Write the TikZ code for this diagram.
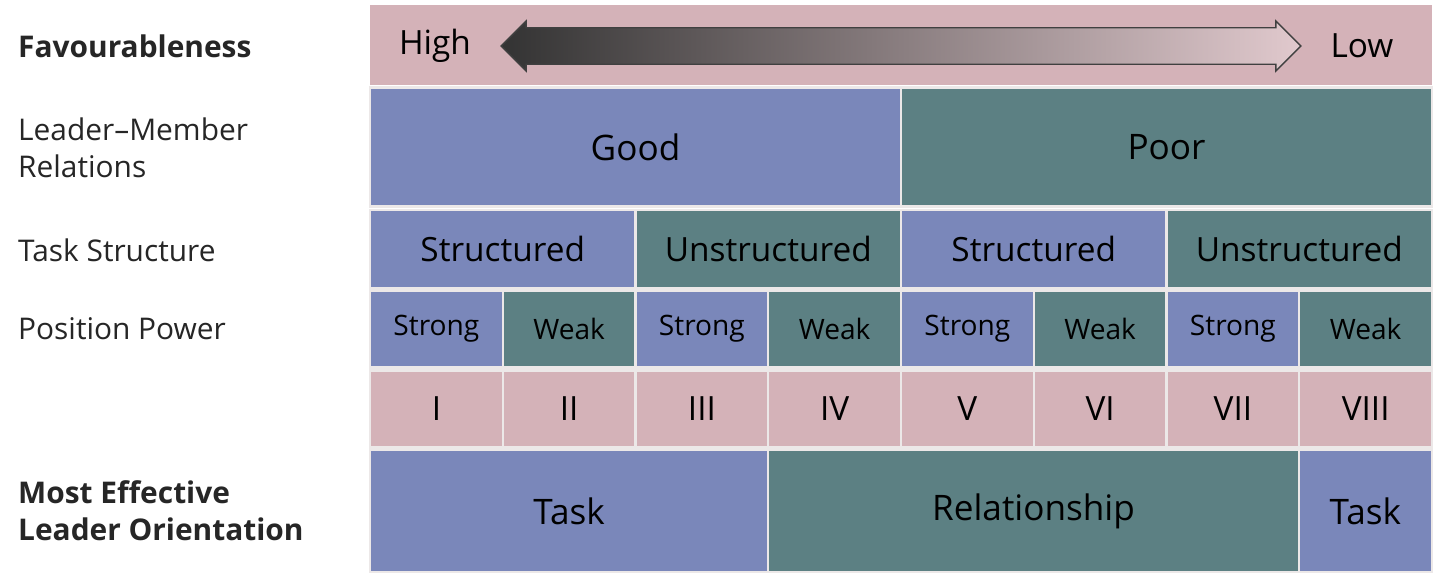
\documentclass[tikz,border=0pt]{standalone}
\usepackage{fontspec}
\setmainfont{Open Sans}
\usetikzlibrary{shapes.arrows}
\definecolor{pinkc}{RGB}{212,178,184}
\definecolor{bluec}{RGB}{122,135,186}
\definecolor{tealc}{RGB}{92,128,131}
\definecolor{gridc}{RGB}{236,232,232}
\begin{document}
\begin{tikzpicture}[
            x = 0.02cm, y = -0.02cm,
            cell/.style = {draw = gridc, line width = 1.2pt, inner sep = 0pt},
            rowlabel/.style = {anchor = west, align = left, font = \fontsize{17}{21}\selectfont, text = black!85},
            boldlabel/.style = {rowlabel, font = \fontsize{17}{21}\selectfont\bfseries}
        ]

        \useasboundingbox (0,0) rectangle (1440,581);
        \fill[white] (0,0) rectangle (1440,581);

        % favourableness row
        \fill[pinkc] (370,5) rectangle (1432,85);
        \node[cell, draw = none] (top) at (901,45) {};
        \node[font = \fontsize{19}{23}\selectfont] (high) at (435,46) {High};
        \node[font = \fontsize{19}{23}\selectfont] (low) at (1362,46) {Low};
        \node[double arrow, draw = black!75, thick, left color = black!80, right color = pinkc!70,
              minimum height = 16cm, minimum width = 1cm, double arrow head extend = 0.05cm,
              inner sep = 0.12cm] (arr) at (901,46) {};

        % leader-member relations
        \foreach \t/\c/\i in {Good/bluec/0, Poor/tealc/1}
            \node[cell, fill = \c, minimum width = 10.62cm, minimum height = 2.38cm,
                  font = \fontsize{20}{24}\selectfont] (lm\i) at (370+265.5+531*\i,147) {\t};

        % task structure
        \foreach \t/\c/\i in {Structured/bluec/0, Unstructured/tealc/1, Structured/bluec/2, Unstructured/tealc/3}
            \node[cell, fill = \c, minimum width = 5.31cm, minimum height = 1.56cm,
                  font = \fontsize{19}{23}\selectfont] (ts\i) at (370+132.75+265.5*\i,249) {\t};

        % position power and octants
        \foreach \t/\n [count = \i from 0] in {Strong/I, Weak/II, Strong/III, Weak/IV, Strong/V, Weak/VI, Strong/VII, Weak/VIII} {
            \pgfmathsetmacro{\isodd}{mod(\i,2)}
            \ifdim\isodd pt=0pt \def\pc{bluec}\else\def\pc{tealc}\fi
            \node[cell, fill = \pc, minimum width = 2.655cm, minimum height = 1.54cm,
                  font = \fontsize{16}{19}\selectfont] (pp\i) at (370+66.4+132.75*\i,329) {\t};
            \node[cell, fill = pinkc, minimum width = 2.655cm, minimum height = 1.54cm,
                  font = \fontsize{19}{23}\selectfont] (oc\i) at (370+66.4+132.75*\i,409) {\n};
        }

        % most effective orientation
        \node[cell, fill = bluec, minimum width = 7.965cm, minimum height = 2.44cm,
              font = \fontsize{20}{24}\selectfont] (eo0) at (370+199.1,511) {Task};
        \node[cell, fill = tealc, minimum width = 10.62cm, minimum height = 2.44cm,
              font = \fontsize{20}{24}\selectfont] (eo1) at (768+265.5,511) {Relationship};
        \node[cell, fill = bluec, minimum width = 2.655cm, minimum height = 2.44cm,
              font = \fontsize{20}{24}\selectfont] (eo2) at (1299+66.4,511) {Task};

        % row labels
        \node[boldlabel] (lfav) at (12,46) {Favourableness};
        \node[rowlabel] (llm) at (12,148) {Leader–Member\\Relations};
        \node[rowlabel] (lts) at (12,250) {Task Structure};
        \node[rowlabel] (lpp) at (12,329) {Position Power};
        \node[boldlabel] (leo) at (12,511) {Most Effective\\Leader Orientation};
    \end{tikzpicture}
\end{document}
